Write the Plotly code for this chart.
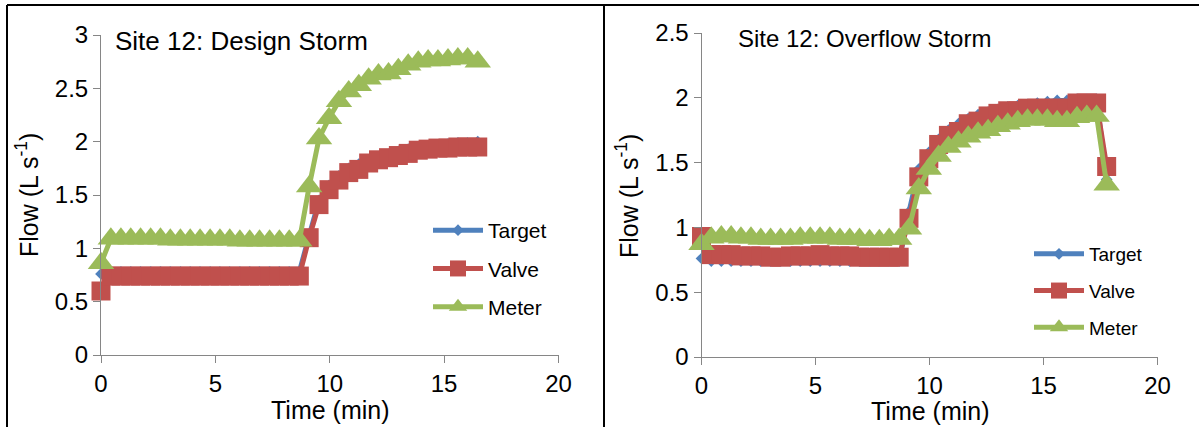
import plotly.graph_objects as go

# ---------------- data ----------------
t_design = [0, 0.43, 0.87, 1.30, 1.73, 2.17, 2.60, 3.03, 3.47, 3.90, 4.33, 4.77, 5.20,
            5.63, 6.07, 6.50, 6.93, 7.37, 7.80, 8.23, 8.67, 9.10, 9.53, 9.97, 10.40,
            10.83, 11.27, 11.70, 12.13, 12.57, 13.00, 13.43, 13.87, 14.30, 14.73,
            15.17, 15.60, 16.03, 16.47]
target_design = [0.76, 0.78, 0.78, 0.78, 0.78, 0.78, 0.78, 0.78, 0.78, 0.78, 0.78, 0.78, 0.78,
                 0.78, 0.78, 0.78, 0.78, 0.78, 0.78, 0.78, 0.78, 1.12, 1.45, 1.59, 1.68,
                 1.75, 1.79, 1.83, 1.86, 1.88, 1.91, 1.93, 1.95, 1.96, 1.97,
                 1.98, 1.99, 1.99, 2.00]
valve_design = [0.60, 0.74, 0.74, 0.74, 0.74, 0.74, 0.74, 0.74, 0.74, 0.74, 0.74, 0.74, 0.74,
                0.74, 0.74, 0.74, 0.74, 0.74, 0.74, 0.74, 0.74, 1.10, 1.41, 1.55, 1.64,
                1.71, 1.74, 1.80, 1.83, 1.85, 1.87, 1.89, 1.92, 1.93, 1.94,
                1.94, 1.95, 1.95, 1.95]
meter_design = [0.86, 1.09, 1.09, 1.09, 1.09, 1.09, 1.09, 1.08, 1.08, 1.08, 1.08, 1.08, 1.08,
                1.08, 1.07, 1.07, 1.07, 1.07, 1.07, 1.07, 1.07, 1.58, 2.03, 2.22, 2.38,
                2.47, 2.53, 2.59, 2.63, 2.64, 2.68, 2.72, 2.75, 2.76, 2.76,
                2.77, 2.78, 2.78, 2.75]

t_overflow = [0, 0.43, 0.87, 1.30, 1.73, 2.17, 2.60, 3.03, 3.47, 3.90, 4.33, 4.77, 5.20,
              5.63, 6.07, 6.50, 6.93, 7.37, 7.80, 8.23, 8.67, 9.10, 9.53, 9.97, 10.40,
              10.83, 11.27, 11.70, 12.13, 12.57, 13.00, 13.43, 13.87, 14.30, 14.73,
              15.17, 15.60, 16.03, 16.47, 16.90, 17.33, 17.77]
target_overflow = [0.76, 0.74, 0.74, 0.74, 0.74, 0.74, 0.74, 0.74, 0.74, 0.74, 0.74, 0.74, 0.74,
                   0.74, 0.74, 0.74, 0.74, 0.74, 0.74, 0.74, 0.74, 1.12, 1.45, 1.58, 1.68,
                   1.75, 1.80, 1.84, 1.87, 1.89, 1.91, 1.93, 1.94, 1.95, 1.96,
                   1.97, 1.98, 1.98, 1.99, 1.99, 1.99, 1.37]
valve_overflow = [0.93, 0.79, 0.79, 0.79, 0.78, 0.78, 0.78, 0.77, 0.77, 0.78, 0.78, 0.78, 0.79,
                  0.78, 0.78, 0.78, 0.77, 0.77, 0.77, 0.77, 0.77, 1.07, 1.39, 1.53, 1.64,
                  1.71, 1.74, 1.80, 1.82, 1.86, 1.88, 1.90, 1.90, 1.92, 1.92,
                  1.92, 1.92, 1.92, 1.96, 1.96, 1.96, 1.47]
meter_overflow = [0.87, 0.92, 0.93, 0.93, 0.92, 0.92, 0.91, 0.91, 0.91, 0.91, 0.92, 0.92, 0.92,
                  0.92, 0.91, 0.91, 0.91, 0.90, 0.90, 0.91, 0.91, 0.99, 1.30, 1.45, 1.55,
                  1.62, 1.66, 1.70, 1.73, 1.75, 1.78, 1.80, 1.82, 1.83, 1.83,
                  1.83, 1.82, 1.82, 1.85, 1.86, 1.86, 1.33]

series_names = ["Target", "Valve", "Meter"]
x_ticks = [0, 5, 10, 15, 20]

# ---------------- style ----------------
W, H = 1199, 427
BLUE, RED, GREEN = "#4F81BD", "#C0504D", "#9BBB59"
AXIS = "#868686"
FONT = "Liberation Sans, Arial, sans-serif"
styles = [(BLUE, "diamond", 9), (RED, "square", 19), (GREEN, "triangle-up", 23)]


def fx(p):
    return p / W


def fy(p):
    return 1 - p / H


fig = go.Figure()
panels = [
    ("x", "y", "legend", t_design, [target_design, valve_design, meter_design], "d"),
    ("x2", "y2", "legend2", t_overflow, [target_overflow, valve_overflow, meter_overflow], "o"),
]
for xa, ya, leg, t, vals, tag in panels:
    for name, (color, sym, size), v in zip(series_names, styles, vals):
        fig.add_trace(go.Scatter(
            x=t, y=v, mode="lines+markers", name=name,
            line=dict(color=color, width=5),
            marker=dict(symbol=sym, size=size, color=color, line=dict(width=0)),
            xaxis=xa, yaxis=ya, legend=leg, legendgroup=tag + name,
            cliponaxis=False,
        ))

axis_common = dict(showline=True, linecolor=AXIS, linewidth=1, ticks="outside",
                   ticklen=7, tickcolor=AXIS, tickwidth=1, showgrid=False, zeroline=False,
                   automargin=False,
                   tickfont=dict(family=FONT, size=24, color="black"))

fig.update_layout(
    width=W, height=H, margin=dict(l=0, r=0, t=0, b=0, autoexpand=False),
    paper_bgcolor="white", plot_bgcolor="white",
    font=dict(family=FONT, color="black"),
    xaxis=dict(domain=[fx(101), fx(558.5)], range=[0, 20], tickvals=x_ticks, anchor="y", **axis_common),
    yaxis=dict(domain=[fy(355), fy(35)], range=[0, 3], dtick=0.5, anchor="x", **axis_common),
    xaxis2=dict(domain=[fx(701.5), fx(1157.5)], range=[0, 20], tickvals=x_ticks, anchor="y2", **axis_common),
    yaxis2=dict(domain=[fy(357), fy(33)], range=[0, 2.5], dtick=0.5, anchor="x2", **axis_common),
    legend=dict(x=fx(428), y=fy(210), xanchor="left", yanchor="top",
                font=dict(family=FONT, size=21, color="black"), bgcolor="rgba(0,0,0,0)",
                tracegroupgap=8, itemwidth=50, itemsizing="trace"),
    legend2=dict(x=fx(1029), y=fy(235), xanchor="left", yanchor="top",
                 font=dict(family=FONT, size=19, color="black"), bgcolor="rgba(0,0,0,0)",
                 tracegroupgap=9, itemwidth=50, itemsizing="trace"),
    showlegend=True,
)

annotations = [
    dict(text="Site 12: Design Storm", x=fx(113), y=fy(41), xanchor="left", yanchor="middle",
         font=dict(size=26)),
    dict(text="Site 12: Overflow Storm", x=fx(736), y=fy(39), xanchor="left", yanchor="middle",
         font=dict(size=24)),
    dict(text="Time (min)", x=fx(330), y=fy(410), xanchor="center", yanchor="middle",
         font=dict(size=25)),
    dict(text="Time (min)", x=fx(930), y=fy(411), xanchor="center", yanchor="middle",
         font=dict(size=25)),
    dict(text="Flow (L s<sup>-1</sup>)", x=fx(27), y=fy(195), xanchor="center", yanchor="middle",
         textangle=-90, font=dict(size=25)),
    dict(text="Flow (L s<sup>-1</sup>)", x=fx(627), y=fy(196), xanchor="center", yanchor="middle",
         textangle=-90, font=dict(size=25)),
]
for a in annotations:
    a.update(xref="paper", yref="paper", showarrow=False)
    a["font"].update(family=FONT, color="black")
fig.update_layout(annotations=annotations)

frame = [(7, 5, 1199, 5), (7, 5, 7, 427), (604, 5, 604, 427)]
fig.update_layout(shapes=[
    dict(type="line", xref="paper", yref="paper", x0=fx(a), y0=fy(b), x1=fx(c), y1=fy(d),
         line=dict(color="black", width=2))
    for a, b, c, d in frame
])

fig.write_html(
    "out.html",
    config={"displayModeBar": False},
    post_script="document.body.style.margin='0';document.body.style.overflow='hidden';",
)
